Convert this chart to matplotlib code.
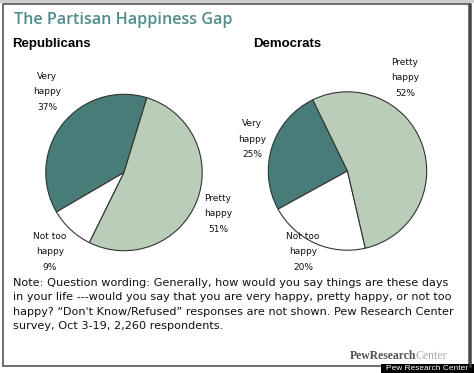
import matplotlib.pyplot as plt
import matplotlib.patches as patches

# ---- data ----
categories = ["Very happy", "Not too happy", "Pretty happy"]
rep_values = [37, 9, 51]
dem_values = [25, 20, 52]
slice_colors = ["#477c79", "#ffffff", "#b9cdb8"]

W, H = 474, 373
fig = plt.figure(figsize=(W / 100, H / 100), dpi=100)
fig.patch.set_facecolor("white")

# overlay axis in pixel coordinates for text and frame
ov = fig.add_axes([0, 0, 1, 1], zorder=5)
ov.set_xlim(0, W)
ov.set_ylim(H, 0)
ov.axis("off")
ov.patch.set_alpha(0)

# frame
ov.add_patch(patches.Rectangle((0, 0), W, 3, facecolor="#cfcfcf", edgecolor="none"))
ov.add_patch(patches.Rectangle((3.5, 3.5), 466, 362, facecolor="none",
                               edgecolor="#555555", linewidth=1.2))
ov.plot([470, 470], [3.5, 365.5], color="#444444", linewidth=1.8)


def pie_axes(cx, cy, r):
    a = fig.add_axes([(cx - r) / W, (H - cy - r) / H, 2 * r / W, 2 * r / H])
    return a


wedge_style = dict(edgecolor="#333333", linewidth=0.8)

ax_r = pie_axes(124, 172.5, 79)
ax_r.pie(rep_values, colors=slice_colors, startangle=73, counterclock=True,
         radius=1, wedgeprops=wedge_style)

ax_d = pie_axes(347.5, 171, 80)
ax_d.pie(dem_values, colors=slice_colors, startangle=116, counterclock=True,
         radius=1, wedgeprops=wedge_style)

for a in (ax_r, ax_d):
    a.set_aspect("auto")
    a.set_xlim(-1.01, 1.01)
    a.set_ylim(-1.01, 1.01)
    a.axis("off")

# titles
ov.text(14, 20, "The Partisan Happiness Gap", fontsize=11.6, color="#4e8c89",
        ha="left", va="center", family="Open Sans", fontweight="semibold")
ov.text(12, 44, "Republicans", fontsize=9.5, fontweight="bold", ha="left",
        va="center", family="Liberation Sans")
ov.text(253, 44, "Democrats", fontsize=9.5, fontweight="bold", ha="left",
        va="center", family="Liberation Sans")

# slice labels
rep_label_pos = [(47, 92), (50, 252), (218, 214)]
dem_label_pos = [(252, 139), (303, 252), (405, 78)]


def label_text(cat, v):
    words = cat.split(" ")
    return "\n".join([" ".join(words[:-1]), words[-1], f"{v}%"])


for cat, v, (x, y) in zip(categories, rep_values, rep_label_pos):
    ov.text(x, y, label_text(cat, v), fontsize=6.5, ha="center", va="center",
            linespacing=1.95, color="#111111")
for cat, v, (x, y) in zip(categories, dem_values, dem_label_pos):
    ov.text(x, y, label_text(cat, v), fontsize=6.5, ha="center", va="center",
            linespacing=1.95, color="#111111")

note = ("Note: Question wording: Generally, how would you say things are these days\n"
        "in your life ---would you say that you are very happy, pretty happy, or not too\n"
        "happy? \u201cDon't Know/Refused\u201d responses are not shown. Pew Research Center\n"
        "survey, Oct 3-19, 2,260 respondents.")
ov.text(13, 277.5, note, fontsize=8.1, ha="left", va="top", linespacing=1.58,
        color="#111111")

# logo
ov.text(350, 356, "PewResearch", fontsize=8.5, family="Liberation Serif",
        fontweight="bold", color="#555555", ha="left", va="center")
ov.text(416, 356, "Center", fontsize=8.5, family="Liberation Serif",
        color="#aaaaaa", ha="left", va="center")
ov.add_patch(patches.Rectangle((381, 364), 93, 9, facecolor="black", edgecolor="none"))
ov.text(427, 368.5, "Pew Research Center", fontsize=6, color="white",
        ha="center", va="center", family="Liberation Sans")

fig.savefig("out.png", dpi=100)
